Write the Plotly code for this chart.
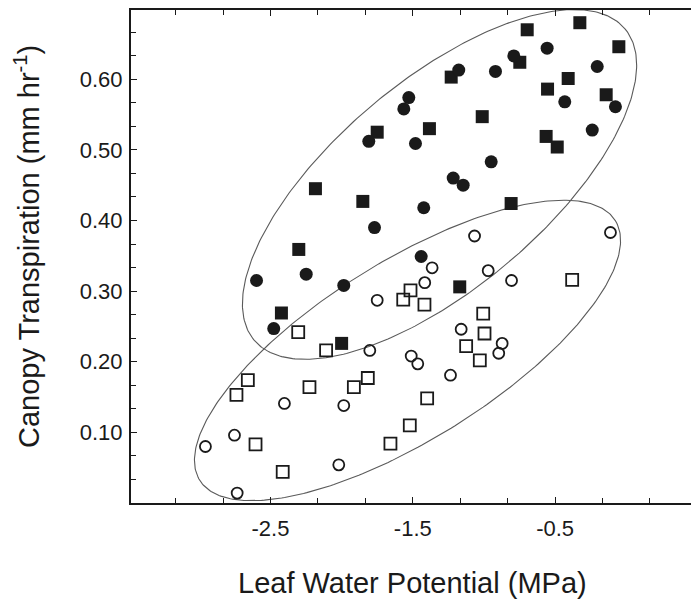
import numpy as np
import plotly.graph_objects as go

# ---- data ----
filled_sq_x = [-0.326, -0.696, -0.052, -0.748, -1.230, -0.408, -0.553, -0.141, -1.012, -1.750,
               -1.383, -0.563, -0.485, -2.184, -1.851, -0.809, -2.301, -1.170, -2.423, -2.000]
filled_sq_y = [0.680, 0.670, 0.646, 0.624, 0.603, 0.601, 0.586, 0.578, 0.547, 0.525,
               0.530, 0.519, 0.504, 0.445, 0.427, 0.424, 0.359, 0.306, 0.269, 0.226]

filled_ci_x = [-0.556, -0.790, -1.177, -0.919, -0.204, -1.528, -1.563, -0.432, -0.076, -1.809, -1.481,
               -0.239, -0.949, -1.216, -1.146, -1.423, -1.769, -1.441, -2.598, -2.249, -1.985, -2.477]
filled_ci_y = [0.644, 0.633, 0.613, 0.611, 0.618, 0.574, 0.558, 0.568, 0.561, 0.512, 0.509,
               0.528, 0.483, 0.460, 0.450, 0.418, 0.390, 0.349, 0.315, 0.324, 0.308, 0.247]

open_ci_x = [-0.111, -1.066, -1.364, -1.416, -0.970, -0.806, -1.750, -1.160, -1.802, -1.511,
             -1.465, -0.872, -0.896, -1.235, -2.402, -1.985, -2.753, -2.957, -2.020, -2.734]
open_ci_y = [0.383, 0.378, 0.333, 0.312, 0.329, 0.315, 0.287, 0.246, 0.216, 0.208,
             0.197, 0.226, 0.212, 0.181, 0.141, 0.138, 0.096, 0.080, 0.054, 0.014]

open_sq_x = [-0.380, -1.516, -1.567, -1.418, -1.005, -0.996, -2.305, -2.109, -1.125, -1.029,
             -2.659, -2.739, -2.226, -1.914, -1.816, -1.399, -1.521, -2.605, -1.657, -2.414]
open_sq_y = [0.316, 0.301, 0.288, 0.281, 0.268, 0.240, 0.242, 0.216, 0.222, 0.202,
             0.174, 0.153, 0.164, 0.164, 0.177, 0.148, 0.110, 0.083, 0.084, 0.044]

# ellipses: centre, first and second conjugate half-axis vectors (data units)
upper_center = (-1.312, 0.451)
upper_u = (1.303, 0.2204)
upper_v = (-0.470, 0.1128)
lower_center = (-1.537, 0.216)
lower_u = (1.460, 0.1839)
lower_v = (-0.3315, 0.1069)

x_ticks = [-2.5, -1.5, -0.5]
x_tick_labels = ["-2.5", "-1.5", "-0.5"]
y_ticks = [0.1, 0.2, 0.3, 0.4, 0.5, 0.6]
y_tick_labels = ["0.10", "0.20", "0.30", "0.40", "0.50", "0.60"]

FONT = "Liberation Sans, Arial, sans-serif"
INK = "#1a1a1a"

fig = go.Figure()

t = np.linspace(0, 2 * np.pi, 361)
for c, u, v in [(upper_center, upper_u, upper_v), (lower_center, lower_u, lower_v)]:
    ex = c[0] + u[0] * np.cos(t) + v[0] * np.sin(t)
    ey = c[1] + u[1] * np.cos(t) + v[1] * np.sin(t)
    fig.add_trace(go.Scatter(x=ex, y=ey, mode="lines",
                             line=dict(color="#5a5a5a", width=1.1),
                             hoverinfo="skip", showlegend=False))

fig.add_trace(go.Scatter(x=open_sq_x, y=open_sq_y, mode="markers", showlegend=False,
                         marker=dict(symbol="square-open", size=12, color=INK,
                                     line=dict(width=1.8, color=INK))))
fig.add_trace(go.Scatter(x=open_ci_x, y=open_ci_y, mode="markers", showlegend=False,
                         marker=dict(symbol="circle-open", size=11, color=INK,
                                     line=dict(width=1.8, color=INK))))
fig.add_trace(go.Scatter(x=filled_sq_x, y=filled_sq_y, mode="markers", showlegend=False,
                         marker=dict(symbol="square", size=13, color=INK,
                                     line=dict(width=0))))
fig.add_trace(go.Scatter(x=filled_ci_x, y=filled_ci_y, mode="markers", showlegend=False,
                         marker=dict(symbol="circle", size=13, color=INK,
                                     line=dict(width=0))))

axis_common = dict(showgrid=False, zeroline=False, showline=True, linecolor=INK, linewidth=2,
                   ticks="inside", ticklen=6, tickwidth=1.2, tickcolor=INK,
                   tickfont=dict(family=FONT, size=22, color=INK))

fig.update_xaxes(range=[-3.48, 0.455], tickmode="array", tickvals=x_ticks, ticktext=x_tick_labels,
                 mirror="ticks",
                 minor=dict(tick0=-2.5, dtick=1/3, ticks="inside", ticklen=5, tickwidth=1.2,
                            tickcolor=INK, showgrid=False),
                 ticklabelstandoff=5, **axis_common)
fig.update_yaxes(range=[0, 0.698], tickmode="array", tickvals=y_ticks, ticktext=y_tick_labels,
                 mirror=False,
                 minor=dict(tick0=0, dtick=1/30, ticks="inside", ticklen=5, tickwidth=1.2,
                            tickcolor=INK, showgrid=False),
                 ticklabelstandoff=2, **axis_common)

fig.update_layout(
    width=691, height=602,
    margin=dict(l=131, r=0, t=10, b=99),
    paper_bgcolor="white", plot_bgcolor="white",
    font=dict(family=FONT, color=INK),
    annotations=[
        dict(text="Leaf Water Potential (MPa)", xref="paper", yref="paper",
             x=0.502, y=-0.162, xanchor="center", yanchor="middle", showarrow=False,
             font=dict(family=FONT, size=29, color=INK)),
        dict(text="Canopy Transpiration (mm hr<sup>-1</sup>)", xref="paper", yref="paper",
             x=-0.186, y=0.521, xanchor="center", yanchor="middle", showarrow=False,
             textangle=-90, font=dict(family=FONT, size=29, color=INK)),
    ],
)

fig.write_html("out.html")
